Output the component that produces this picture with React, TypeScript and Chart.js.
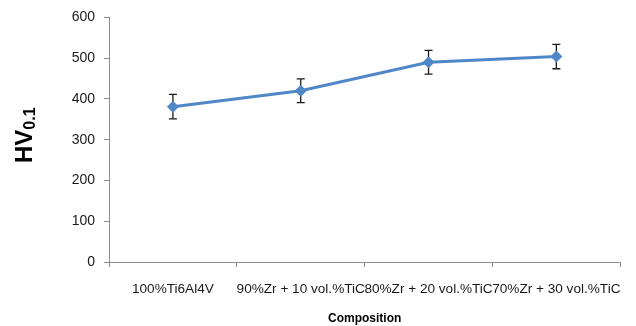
import React, { useEffect, useRef } from "react";
import { Chart, registerables } from "chart.js";

Chart.register(...registerables);

const categories = [
  "100%Ti6Al4V",
  "90%Zr + 10 vol.%TiC",
  "80%Zr + 20 vol.%TiC",
  "70%Zr + 30 vol.%TiC",
];
const hardness = [381, 420, 490, 504];
const errors = [30, 29, 29, 30];
const yTicks = [0, 100, 200, 300, 400, 500, 600];

const LINE_COLOR = "#4f87c7";
const FONT = "'Liberation Sans', Arial, sans-serif";

const errorBarPlugin = {
  id: "errorBars",
  beforeDatasetsDraw(chart: any) {
    const ctx = chart.ctx;
    const yScale = chart.scales.y;
    const meta = chart.getDatasetMeta(0);
    ctx.save();
    ctx.strokeStyle = "#1a1a1a";
    ctx.lineWidth = 1.3;
    meta.data.forEach((pt: any, i: number) => {
      const x = pt.x;
      const yTop = yScale.getPixelForValue(hardness[i] + errors[i]);
      const yBot = yScale.getPixelForValue(hardness[i] - errors[i]);
      ctx.beginPath();
      ctx.moveTo(x, yTop);
      ctx.lineTo(x, yBot);
      ctx.moveTo(x - 4, yTop);
      ctx.lineTo(x + 4, yTop);
      ctx.moveTo(x - 4, yBot);
      ctx.lineTo(x + 4, yBot);
      ctx.stroke();
    });
    ctx.restore();
  },
};

const yTitlePlugin = {
  id: "yTitle",
  afterDraw(chart: any) {
    const ctx = chart.ctx;
    ctx.save();
    ctx.translate(32, 163);
    ctx.rotate(-Math.PI / 2);
    ctx.fillStyle = "#000";
    ctx.textAlign = "left";
    ctx.textBaseline = "alphabetic";
    ctx.font = `bold 24px ${FONT}`;
    ctx.fillText("HV", 0, 0);
    const w = ctx.measureText("HV").width;
    ctx.font = `bold 16px ${FONT}`;
    ctx.fillText("0.1", w, 3);
    ctx.restore();
  },
};

export default function App() {
  const ref = useRef<HTMLCanvasElement>(null);

  useEffect(() => {
    if (!ref.current) return;
    const chart = new Chart(ref.current, {
      type: "line",
      data: {
        labels: categories,
        datasets: [
          {
            data: hardness,
            borderColor: LINE_COLOR,
            backgroundColor: LINE_COLOR,
            borderWidth: 3,
            pointStyle: "rectRot",
            pointRadius: 6,
            pointBorderWidth: 0,
            pointBackgroundColor: LINE_COLOR,
            tension: 0,
          },
        ],
      },
      options: {
        responsive: false,
        animation: false,
        layout: { padding: { top: 17, right: 12, left: 0, bottom: 0 } },
        plugins: {
          legend: { display: false },
          tooltip: { enabled: false },
        },
        scales: {
          x: {
            type: "category",
            offset: true,
            grid: {
              offset: true,
              drawOnChartArea: false,
              drawTicks: true,
              tickLength: 5,
              color: "#8c8c8c",
            },
            border: { color: "#8c8c8c", width: 1 },
            ticks: {
              autoSkip: false,
              maxRotation: 0,
              minRotation: 0,
              padding: 14,
              color: "#1a1a1a",
              font: { family: FONT, size: 13.6 },
            },
            title: {
              display: true,
              text: "Composition",
              color: "#000",
              font: { family: FONT, size: 12, weight: "bold" },
              padding: { top: 0, bottom: 0 },
            },
            afterFit: (s: any) => {
              s.height = 64;
            },
          },
          y: {
            min: 0,
            max: 600,
            afterBuildTicks: (s: any) => {
              s.ticks = yTicks.map((v) => ({ value: v }));
            },
            grid: {
              drawOnChartArea: false,
              drawTicks: true,
              tickLength: 5,
              color: "#8c8c8c",
            },
            border: { color: "#8c8c8c", width: 1 },
            ticks: {
              padding: 9,
              color: "#1a1a1a",
              font: { family: FONT, size: 14 },
            },
            afterFit: (s: any) => {
              s.width = 109;
            },
          },
        },
      },
      plugins: [errorBarPlugin, yTitlePlugin],
    });
    return () => chart.destroy();
  }, []);

  return (
    <div style={{ position: "fixed", left: 0, top: 0, width: 636, height: 326, background: "#fff" }}>
      <canvas ref={ref} width={636} height={326} style={{ display: "block" }} />
    </div>
  );
}
